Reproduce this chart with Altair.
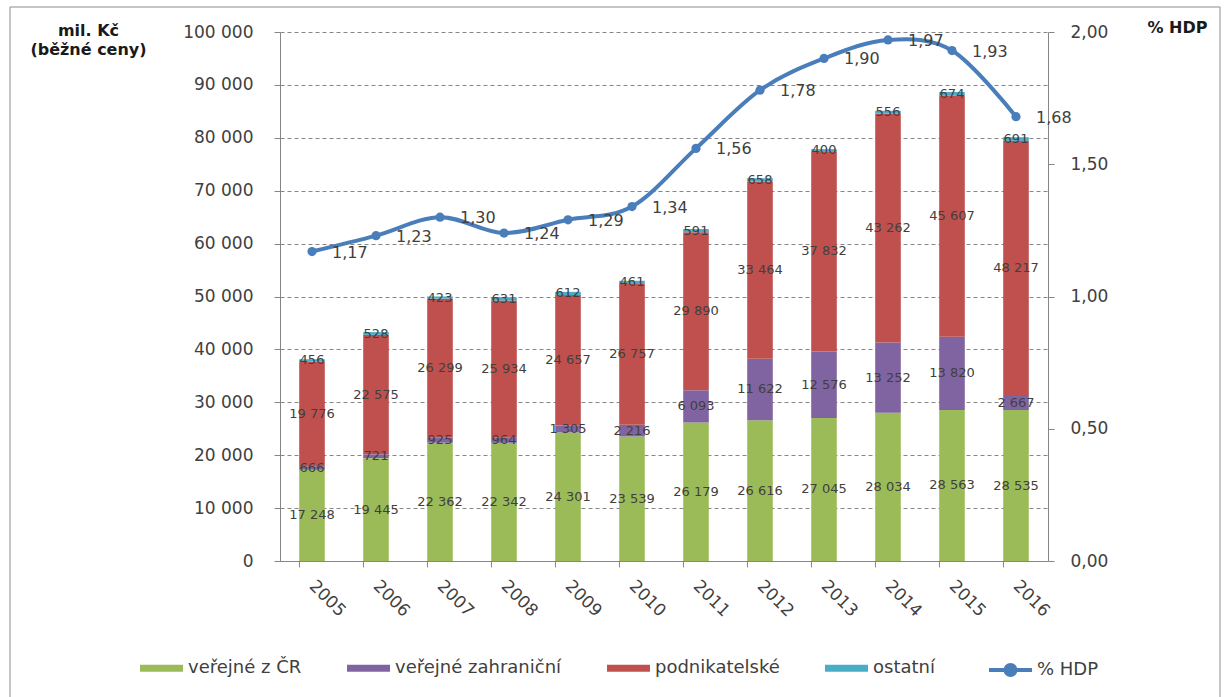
import altair as alt
import pandas as pd

# ---------------- data ----------------
years = ["2005", "2006", "2007", "2008", "2009", "2010",
         "2011", "2012", "2013", "2014", "2015", "2016"]
verejne_cr = [17248, 19445, 22362, 22342, 24301, 23539, 26179, 26616, 27045, 28034, 28563, 28535]
verejne_zahr = [666, 721, 925, 964, 1305, 2216, 6093, 11622, 12576, 13252, 13820, 2667]
podnikatelske = [19776, 22575, 26299, 25934, 24657, 26757, 29890, 33464, 37832, 43262, 45607, 48217]
ostatni = [456, 528, 423, 631, 612, 461, 591, 658, 400, 556, 674, 691]
hdp = [1.17, 1.23, 1.30, 1.24, 1.29, 1.34, 1.56, 1.78, 1.90, 1.97, 1.93, 1.68]

series_names = ["veřejné z ČR", "veřejné zahraniční", "podnikatelské", "ostatní"]
series_colors = ["#9BBB59", "#8064A2", "#C0504D", "#4BACC6"]
line_name = "% HDP"
line_color = "#4A7EBB"
left_ticks = [0, 10000, 20000, 30000, 40000, 50000, 60000, 70000, 80000, 90000, 100000]
right_ticks = [0, 0.5, 1.0, 1.5, 2.0]

series_values = [verejne_cr, verejne_zahr, podnikatelske, ostatni]
rows = []
for i, (name, vals) in enumerate(zip(series_names, series_values)):
    for y, v in zip(years, vals):
        rows.append({"year": y, "series": name, "ord": i, "value": v,
                     "label": f"{v:,}".replace(",", " ")})
bars_df = pd.DataFrame(rows)
line_df = pd.DataFrame({
    "year": years, "hdp": hdp, "series": [line_name] * len(years),
    "label": [f"{v:.2f}".replace(".", ",") for v in hdp],
})

# ---------------- styling ----------------
W, H = 768, 529
LEFT, TOP = 280, 32
FONT = "DejaVu Sans"
TXT = "#404040"
TITLE = "#1a1a1a"
AX = "#868686"

x_main = alt.X(
    "year:N", sort=years,
    scale=alt.Scale(paddingInner=0.6, paddingOuter=0.3),
    axis=alt.Axis(title=None, labelAngle=45, labelAlign="left", labelBaseline="middle",
                  labelPadding=22, ticks=False, domain=True, domainColor=AX,
                  labelFont=FONT, labelFontSize=17, labelColor=TXT, grid=False,
                  orient="bottom"),
)
x_ticks = alt.X(
    "year:N", sort=years,
    axis=alt.Axis(orient="bottom", bandPosition=0, labels=False, ticks=True, tickSize=6,
                  tickColor=AX, domain=False, title=None, grid=False),
)

y_left = alt.Y(
    "value:Q", stack="zero",
    scale=alt.Scale(domain=[0, 100000], nice=False),
    axis=alt.Axis(values=left_ticks, title=["mil. Kč", "(běžné ceny)"], titleAngle=0,
                  titleX=-192, titleY=3, titleAlign="center", titleBaseline="alphabetic",
                  titleFont=FONT, titleFontSize=16, titleFontWeight="bold", titleColor=TITLE,
                  titleLineHeight=19,
                  labelExpr="replace(format(datum.value, ','), ',', ' ')",
                  labelFont=FONT, labelFontSize=17, labelColor=TXT, labelPadding=21,
                  grid=True, gridDash=[4, 3], gridColor=AX, gridWidth=1,
                  tickSize=6, tickColor=AX, domainColor=AX, orient="left"),
)

color_bars = alt.Color(
    "series:N",
    scale=alt.Scale(domain=series_names, range=series_colors),
    legend=alt.Legend(orient="none", legendX=-140, legendY=614.5, direction="horizontal",
                      title=None, symbolType="M-1,-0.163H1V0.163H-1Z", symbolSize=1849,
                      symbolStrokeWidth=0, labelFont=FONT, labelFontSize=18, labelColor=TXT,
                      labelLimit=400, columnPadding=45, labelOffset=5, padding=0, offset=0),
)

bars = alt.Chart(bars_df).mark_bar().encode(
    x=x_main,
    y=y_left,
    color=color_bars,
    order=alt.Order("ord:Q", sort="ascending"),
)

bar_text = alt.Chart(bars_df).transform_stack(
    stack="value", groupby=["year"], sort=[alt.SortField("ord", order="ascending")],
    as_=["v0", "v1"],
).transform_calculate(
    mid="(datum.v0 + datum.v1) / 2"
).mark_text(font=FONT, fontSize=13, color=TXT, baseline="middle", align="center").encode(
    x=alt.X("year:N", sort=years),
    y=alt.Y("mid:Q", scale=alt.Scale(domain=[0, 100000], nice=False)),
    text="label:N",
)

bars_layer = alt.layer(bars, bar_text)

y_right = alt.Y(
    "hdp:Q", scale=alt.Scale(domain=[0, 2], nice=False),
    axis=alt.Axis(orient="right", values=right_ticks,
                  labelExpr="replace(format(datum.value, '.2f'), '.', ',')",
                  title="% HDP", titleAngle=0, titleX=129, titleY=0, titleAlign="center",
                  titleBaseline="alphabetic", titleFont=FONT, titleFontSize=16,
                  titleFontWeight="bold", titleColor=TITLE,
                  labelFont=FONT, labelFontSize=17, labelColor=TXT, labelPadding=16,
                  grid=False, tickSize=6, tickColor=AX, domainColor=AX),
)

color_line = alt.Color(
    "series:N",
    scale=alt.Scale(domain=[line_name], range=[line_color]),
    legend=alt.Legend(orient="none", legendX=707, legendY=614.5, title=None,
                      symbolType="M-1,0H1M0.23,0A0.23,0.23,0,1,1,-0.23,0A0.23,0.23,0,1,1,0.23,0Z",
                      symbolSize=1849, symbolStrokeWidth=4, symbolFillColor=line_color,
                      symbolStrokeColor=line_color,
                      labelFont=FONT, labelFontSize=18, labelColor=TXT, labelOffset=3,
                      labelLimit=400, padding=0, offset=0),
)

line = alt.Chart(line_df).mark_line(
    strokeWidth=4, interpolate="cardinal",
    point=alt.OverlayMarkDef(size=85, filled=True, color=line_color),
).encode(
    x=x_ticks,
    y=y_right,
    color=color_line,
)

line_text = alt.Chart(line_df).mark_text(
    font=FONT, fontSize=16, color=TXT, align="left", baseline="middle", dx=20, dy=1,
).encode(
    x=alt.X("year:N", sort=years),
    y=alt.Y("hdp:Q", scale=alt.Scale(domain=[0, 2], nice=False)),
    text="label:N",
)

line_layer = alt.layer(line, line_text)

frame = alt.Chart(pd.DataFrame({"f": [0]})).mark_rect(
    filled=False, stroke="#8c8c8c", strokeWidth=1,
).encode(
    x=alt.value(-270), x2=alt.value(940), y=alt.value(-25), y2=alt.value(668),
)

chart = alt.layer(frame, bars_layer, line_layer).resolve_scale(
    y="independent", color="independent"
).resolve_axis(
    x="independent"
).properties(
    width=W, height=H,
    padding={"left": LEFT, "top": TOP, "right": 1226 - LEFT - W, "bottom": 697 - TOP - H},
    autosize=alt.AutoSizeParams(type="none"),
    background="white",
).configure_view(strokeWidth=0)

chart.save("out.html", embed_options={"renderer": "svg", "actions": False})
